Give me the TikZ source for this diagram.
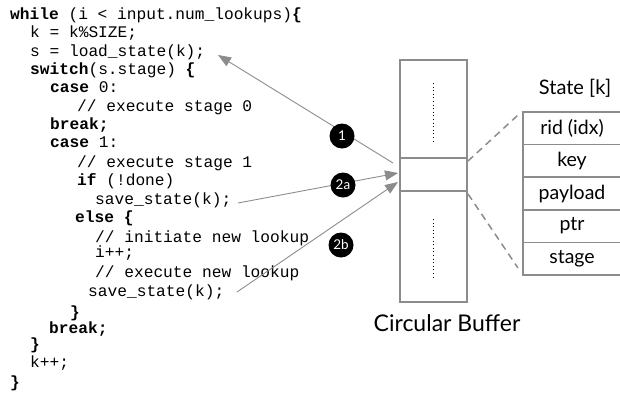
\documentclass[tikz,border=0pt]{standalone}
\usepackage{fontspec}
\setmainfont{Lato}
\newfontfamily\codefont{Liberation Mono}
\usetikzlibrary{arrows.meta,positioning}
\definecolor{linegray}{RGB}{140,140,140}
\tikzset{
  code/.style={anchor=base west,inner sep=0pt,
    font=\codefont\fontsize{16.2}{18}\selectfont},
  slotbox/.style={draw=linegray,line width=1.5pt,minimum width=67pt,
    inner sep=0pt,outer sep=0pt},
  cell/.style={draw=linegray,line width=1.5pt,minimum width=98pt,
    minimum height=32.6pt,inner sep=0pt,outer sep=0pt,
    font=\fontsize{19.5}{20}\selectfont},
  badge/.style={circle,fill=black,text=white,minimum size=25pt,
    inner sep=0pt,font=\fontsize{13.5}{14}\selectfont},
  ptr/.style={linegray,line width=0.9pt,
    -{Triangle[length=13pt,width=10pt]}},
  zoomline/.style={linegray,line width=1.5pt,dash pattern=on 7pt off 5pt}
}
\begin{document}
\begin{tikzpicture}[x=1pt,y=-1pt]
  \useasboundingbox (0,0) rectangle (620,397);
  \clip (0,0) rectangle (620,397);

  % code
  \node[code] (c1)  at (10,19)  {\textbf{while} (i < input.num\_lookups)\textbf{\{}};
  \node[code] (c2)  at (30,37)  {k = k\%SIZE;};
  \node[code] (c3)  at (30,56)  {s = load\_state(k);};
  \node[code] (c4)  at (30,74)  {\textbf{switch}(s.stage) \textbf{\{}};
  \node[code] (c5)  at (50,92)  {\textbf{case} 0:};
  \node[code] (c6)  at (77,111) {// execute stage 0};
  \node[code] (c7)  at (50,129) {\textbf{break;}};
  \node[code] (c8)  at (50,147) {\textbf{case} 1:};
  \node[code] (c9)  at (77,167) {// execute stage 1};
  \node[code] (c10) at (77,185) {\textbf{if} (!done)};
  \node[code] (c11) at (95,204) {save\_state(k);};
  \node[code] (c12) at (75,222) {\textbf{else \{}};
  \node[code] (c13) at (95,242) {// initiate new lookup};
  \node[code] (c14) at (95,257) {i++;};
  \node[code] (c15) at (95,277) {// execute new lookup};
  \node[code] (c16) at (88,296) {save\_state(k);};
  \node[code] (c17) at (70,317) {\textbf{\}}};
  \node[code] (c18) at (49,333) {\textbf{break;}};
  \node[code] (c19) at (30,349) {\textbf{\}}};
  \node[code] (c20) at (30,367) {k++;};
  \node[code] (c21) at (10,387) {\textbf{\}}};

  % circular buffer
  \node[slotbox,minimum height=98pt,anchor=north west] (btop) at (400,60) {};
  \node[slotbox,minimum height=33pt,below=0pt of btop] (bslot) {};
  \node[slotbox,minimum height=111pt,below=0pt of bslot] (bbot) {};
  \draw[line width=1pt,dash pattern=on 1pt off 2.6pt]
    ([yshift=-23pt]btop.north) -- ([yshift=16pt]btop.south);
  \draw[line width=1pt,dash pattern=on 1pt off 2.6pt]
    ([yshift=-28pt]bbot.north) -- ([yshift=24pt]bbot.south);
  \node[font=\fontsize{23}{24}\selectfont] (bname) at (447,323) {Circular Buffer};

  % state record
  \node[cell,anchor=north west] (r1) at (523,112) {rid (idx)};
  \node[cell,below=0pt of r1] (r2) {key};
  \node[cell,below=0pt of r2] (r3) {payload};
  \node[cell,below=0pt of r3] (r4) {ptr};
  \node[cell,below=0pt of r4] (r5) {stage};
  \node[font=\fontsize{20}{21}\selectfont] (sname) at (575,88) {State [k]};

  \coordinate (z1a) at (468,161);
  \coordinate (z1b) at (518,115);
  \coordinate (z2a) at (468,194);
  \coordinate (z2b) at (518,268);
  \draw[zoomline] (z1a) -- (z1b);
  \draw[zoomline] (z2a) -- (z2b);

  % arrows
  \coordinate (p1s) at (393,163);
  \coordinate (p1t) at (218,55);
  \coordinate (p2s) at (238,203);
  \coordinate (p2t) at (398,173);
  \coordinate (p3s) at (237,292);
  \coordinate (p3t) at (398,182);
  \draw[ptr] (p1s) -- (p1t);
  \draw[ptr] (p2s) -- (p2t);
  \draw[ptr] (p3s) -- (p3t);

  \node[badge] (n1)  at (342,136) {1};
  \node[badge] (n2a) at (343,185) {2a};
  \node[badge] (n2b) at (341,245) {2b};
\end{tikzpicture}
\end{document}
